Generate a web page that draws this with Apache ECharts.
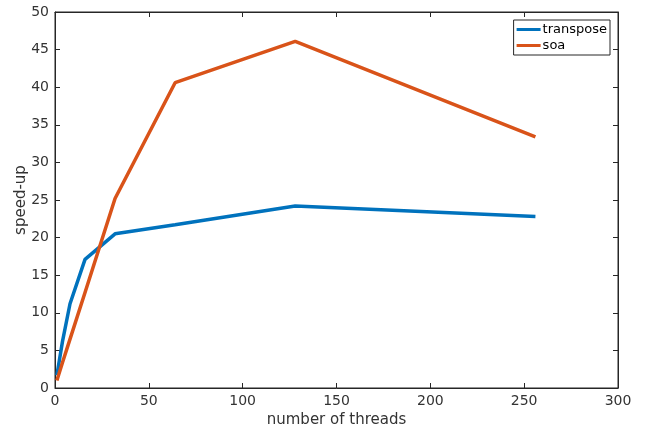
<!DOCTYPE html>
<html>
<head>
<meta charset="utf-8">
<script src="https://cdn.jsdelivr.net/npm/echarts@6/dist/echarts.min.js"></script>
<style>
  html, body { margin: 0; padding: 0; background: #fff; }
  #chart { width: 647px; height: 428px; }
</style>
</head>
<body>
<div id="chart"></div>
<script>
// values
const threads = [1, 2, 4, 8, 16, 32, 64, 128, 256];
const transpose = [1.7, 3.2, 6.2, 11.2, 17.1, 20.5, 21.7, 24.2, 22.8];
const soa = [1.0, 1.8, 3.4, 6.5, 12.7, 25.2, 40.6, 46.1, 33.4];

const chart = echarts.init(document.getElementById('chart'));

const font = 'DejaVu Sans';
const txt = '#333';
const axisCol = '#262626';

const pairs = (ys) => threads.map((x, i) => [x, ys[i]]);

// shared look for the box axes (ticks pointing into the plot)
const tick = { show: true, inside: true, length: 5, lineStyle: { color: axisCol, width: 1 } };
const line = { show: true, onZero: false, lineStyle: { color: axisCol, width: 1 } };

chart.setOption({
    animation: false,
    textStyle: { fontFamily: font },
    grid: {
        left: 55, right: 29, top: 12, bottom: 40,
        containLabel: false, outerBoundsMode: 'none',
        show: true, borderColor: axisCol, borderWidth: 1
    },
    legend: {
        orient: 'vertical',
        right: 37,
        top: 20,
        backgroundColor: '#fff',
        borderColor: '#262626',
        borderWidth: 1,
        borderRadius: 0,
        padding: [3, 3, 3, 3],
        itemGap: 3,
        itemWidth: 24,
        itemHeight: 3,
        icon: 'rect',
        textStyle: { fontFamily: font, fontSize: 13, color: '#000', padding: [0, 0, 0, -3] },
        data: ['transpose', 'soa']
    },
    xAxis: [
        {
            type: 'value', min: 0, max: 300, interval: 50,
            name: 'number of threads', nameLocation: 'middle', nameGap: 25,
            nameMoveOverlap: false,
            nameTextStyle: { fontSize: 15, color: txt, fontFamily: font },
            axisLine: line, axisTick: tick,
            axisLabel: { fontSize: 14, color: txt, margin: 6 },
            splitLine: { show: false }
        },
        {
            show: true,
            type: 'value', min: 0, max: 300, interval: 50, position: 'top',
            axisLine: line, axisTick: tick,
            axisLabel: { show: false },
            splitLine: { show: false }
        }
    ],
    yAxis: [
        {
            type: 'value', min: 0, max: 50, interval: 5,
            name: 'speed-up', nameLocation: 'middle', nameGap: 26, nameRotate: 90,
            nameMoveOverlap: false,
            nameTextStyle: { fontSize: 15, color: txt, fontFamily: font },
            axisLine: line, axisTick: tick,
            axisLabel: { fontSize: 14, color: txt, margin: 6 },
            splitLine: { show: false }
        },
        {
            show: true,
            type: 'value', min: 0, max: 50, interval: 5, position: 'right',
            axisLine: line, axisTick: tick,
            axisLabel: { show: false },
            splitLine: { show: false }
        }
    ],
    series: [
        {
            name: 'transpose', type: 'line', data: pairs(transpose),
            showSymbol: false, symbol: 'none',
            color: '#0072BD',
            lineStyle: { width: 3.5, color: '#0072BD' }
        },
        {
            name: 'soa', type: 'line', data: pairs(soa),
            showSymbol: false, symbol: 'none',
            color: '#D95319',
            lineStyle: { width: 3.5, color: '#D95319' }
        }
    ]
});
</script>
</body>
</html>
